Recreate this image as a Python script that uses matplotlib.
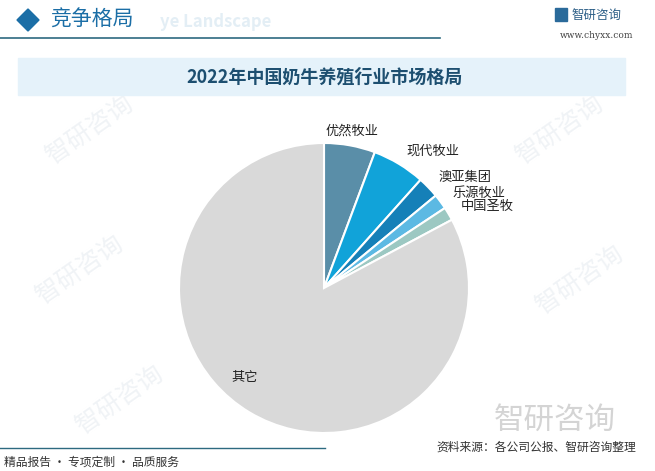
import matplotlib.pyplot as plt
from matplotlib.patches import Rectangle, Polygon

plt.rcParams['font.family'] = ['Noto Sans CJK SC', 'DejaVu Sans']

companies = ['优然牧业', '现代牧业', '澳亚集团', '乐源牧业', '中国圣牧', '其它']
shares = [5.7, 5.9, 2.4, 1.7, 1.5, 82.8]
colors = ['#5a8ea8', '#11a3d9', '#1580b8', '#5cb9e3', '#9cc8c2', '#d9d9d9']

title = '2022年中国奶牛养殖行业市场格局'
section = '竞争格局'
source = '资料来源：各公司公报、智研咨询整理'
footer = '精品报告 · 专项定制 · 品质服务'

W, H = 655, 471
fig = plt.figure(figsize=(W / 100, H / 100), dpi=100)
bg = fig.add_axes([0, 0, 1, 1])
bg.set_xlim(0, W)
bg.set_ylim(H, 0)
bg.axis('off')

# faint watermarks
for (wx, wy) in [(90, 130), (560, 130), (80, 270), (580, 280), (120, 400), (330, 220)]:
    bg.text(wx, wy, '智研咨询', fontsize=18, color='#f0f3f6', rotation=35,
            ha='center', va='center', zorder=0)

# header
bg.add_patch(Polygon([[28, 9], [39, 20], [28, 31], [17, 20]], closed=True,
                     color='#1b6ea6', zorder=2))
bg.text(50, 20, section, fontsize=15, color='#1b6ea6', va='center', ha='left')
bg.text(160, 22, 'ye Landscape', fontsize=12, color='#e3eef5',
        va='center', ha='left', fontweight='bold', zorder=1)
bg.plot([0, 440], [38, 38], color='#2d6a80', lw=1.2)
bg.text(571, 15, '智研咨询', fontsize=9, color='#2a5d86', va='center', ha='left')
bg.add_patch(Rectangle((555, 8), 12, 13, color='#2a6a9a'))
bg.text(597, 36, 'www.chyxx.com', fontsize=6.5, color='#444444', va='center',
        ha='center', family='DejaVu Serif')

# title box
bg.add_patch(Rectangle((18, 58), 607, 37, color='#e5f2fa', zorder=1))
bg.text(325, 77, title, fontsize=13, color='#1d4f70', fontweight='bold',
        ha='center', va='center', zorder=2)

# bottom
bg.text(555, 420, '智研咨询', fontsize=22, color='#d4d4d4', ha='center',
        va='center')
bg.plot([0, 325], [448, 448], color='#2d6a80', lw=1)
bg.text(636, 447, source, fontsize=8.5, color='#333333', ha='right', va='center')
bg.text(4, 462, footer, fontsize=8.5, color='#333333', ha='left', va='center')

# pie
cx, cy, r = 324, 288, 145
ax = fig.add_axes([(cx - r) / W, 1 - (cy + r) / H, 2 * r / W, 2 * r / H])
wedges, texts = ax.pie(shares, colors=colors, startangle=90, counterclock=False,
                       labels=companies, labeldistance=1.1,
                       wedgeprops=dict(edgecolor='white', linewidth=1.5),
                       textprops=dict(fontsize=9.5, color='#222222'))
texts[0].set_ha('center')
texts[-1].set_position((-0.55, -0.62))
texts[-1].set_ha('center')
ax.set_xlim(-1, 1)
ax.set_ylim(-1, 1)
ax.set_aspect('equal')

fig.savefig('out.png', dpi=100)
